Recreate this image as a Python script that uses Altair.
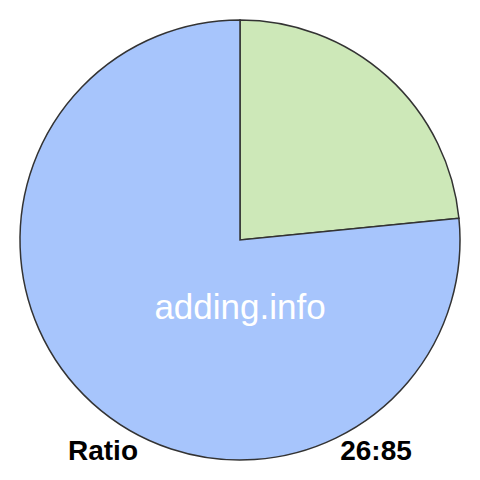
import altair as alt
import pandas as pd

labels = ["26", "85"]
values = [26, 85]
colors = ["#cde8b8", "#a7c5fc"]
order = [0, 1]

df = pd.DataFrame({"label": labels, "value": values, "order": order})

W = 464
pie = alt.Chart(df).mark_arc(
    radius=220, stroke="#333333", strokeWidth=1.5, opacity=1
).encode(
    theta=alt.Theta("value:Q", stack=True),
    order=alt.Order("order:Q"),
    color=alt.Color("label:N", scale=alt.Scale(domain=labels, range=colors), legend=None),
    x=alt.value(232),
    y=alt.value(232),
)

wm = alt.Chart(pd.DataFrame({"t": ["adding.info"]})).mark_text(
    font="Liberation Sans", fontSize=35, color="white", align="center", baseline="alphabetic"
).encode(text="t:N", x=alt.value(232), y=alt.value(311))

left = alt.Chart(pd.DataFrame({"t": ["Ratio"]})).mark_text(
    font="Liberation Sans", fontSize=28, fontWeight="bold", color="black", align="center", baseline="alphabetic"
).encode(text="t:N", x=alt.value(95), y=alt.value(452))

right = alt.Chart(pd.DataFrame({"t": ["26:85"]})).mark_text(
    font="Liberation Sans", fontSize=28, fontWeight="bold", color="black", align="center", baseline="alphabetic"
).encode(text="t:N", x=alt.value(368), y=alt.value(452))

chart = alt.layer(pie, wm, left, right).properties(
    width=W, height=W, autosize=alt.AutoSizeParams(type="none"), padding=0
).configure_view(stroke=None)

chart.save("out.html", embed_options={"renderer": "svg", "actions": False})
